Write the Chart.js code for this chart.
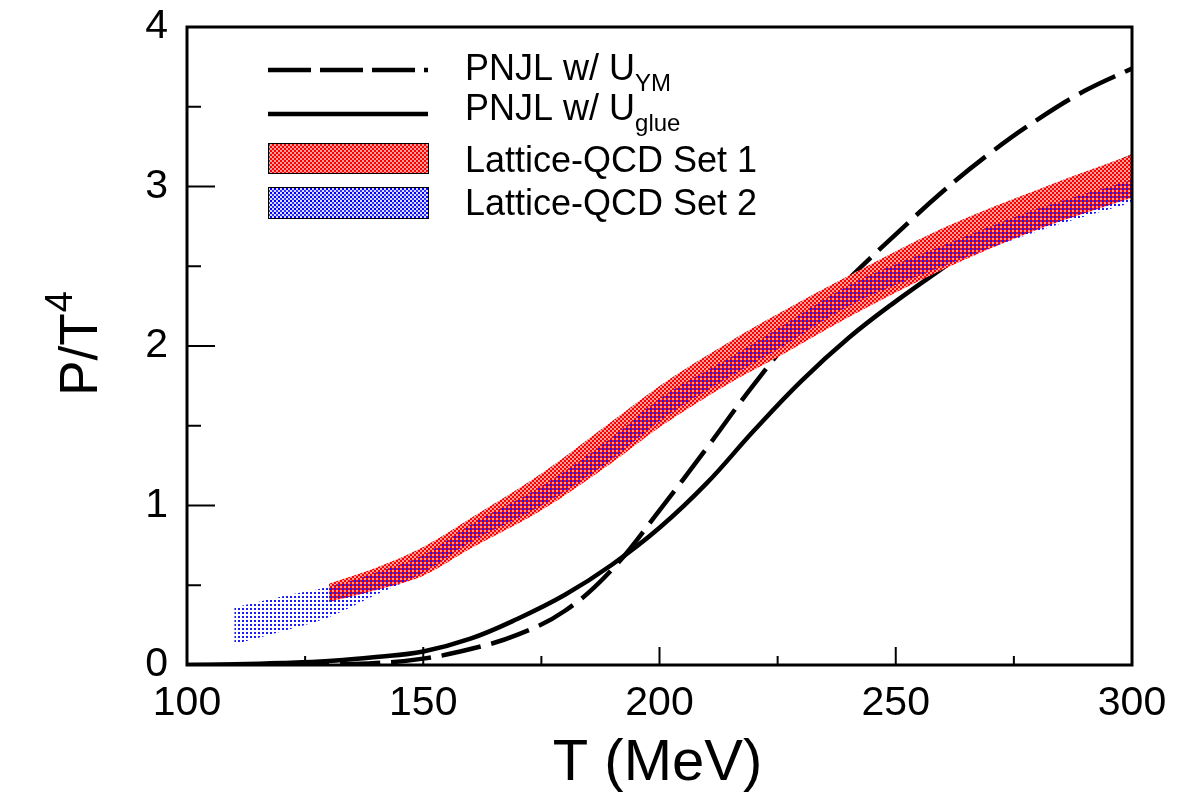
<!DOCTYPE html>
<html>
<head>
<meta charset="utf-8">
<script src="https://cdn.jsdelivr.net/npm/chart.js@4.4.1/dist/chart.umd.min.js"></script>
<style>
html,body{margin:0;padding:0;background:#fff;}
#wrap{width:1182px;height:800px;}
</style>
</head>
<body>
<div id="wrap"><canvas id="c" width="1182" height="800"></canvas></div>
<script>
// ---- data ----
const tCurve   = [100,110,120,130,140,150,160,170,180,190,200,210,220,230,240,250,260,270,280,290,300];
const pnjlYM   = [0.0,0.0,0.001,0.004,0.012,0.04,0.10,0.19,0.34,0.60,0.97,1.36,1.76,2.12,2.42,2.70,2.97,3.21,3.42,3.60,3.74];
const pnjlGlue = [0.0,0.004,0.012,0.025,0.05,0.085,0.165,0.29,0.44,0.63,0.86,1.14,1.47,1.78,2.05,2.28,2.49,2.70,2.88,3.05,3.19];

const set1T     = [130,140,150,160,175,190,200,215,225,240,260,280,300];
const set1Upper = [0.51,0.61,0.74,0.92,1.20,1.53,1.75,2.03,2.20,2.44,2.74,2.98,3.20];
const set1Lower = [0.395,0.47,0.56,0.73,0.97,1.27,1.49,1.77,1.93,2.18,2.48,2.73,2.93];

const set2T     = [110,120,130,140,150,160,175,190,200,215,225,240,260,280,300];
const set2Upper = [0.36,0.43,0.49,0.58,0.69,0.88,1.12,1.43,1.67,1.93,2.11,2.38,2.63,2.86,3.04];
const set2Lower = [0.13,0.21,0.30,0.44,0.58,0.77,1.00,1.29,1.53,1.81,1.98,2.25,2.50,2.72,2.90];

const xTicks = [100,150,200,250,300];
const yTicks = [0,1,2,3,4];
const xMinor = [125,175,225,275];
const yMinor = [0.5,1.5,2.5,3.5];

const xTitle = 'T (MeV)';
const yTitleMain = 'P/T';
const yTitleSup = '4';
const legendRows = [
  {main:'PNJL w/ U', sub:'YM'},
  {main:'PNJL w/ U', sub:'glue'},
  {main:'Lattice-QCD Set 1', sub:''},
  {main:'Lattice-QCD Set 2', sub:''}
];

// ---- helpers ----
const FONT = "'Liberation Sans', Arial, Helvetica, sans-serif";
const pts = (xs, ys) => xs.map((x, i) => ({x: x, y: ys[i]}));
const canvas = document.getElementById('c');
const mainCtx = canvas.getContext('2d');

// tiles of 2x2-pixel cells: [cellX, cellY, colour]
function makePattern(cells, n) {
  const t = document.createElement('canvas');
  t.width = 2 * n; t.height = 2 * n;
  const g = t.getContext('2d');
  cells.forEach(p => { g.fillStyle = p[2]; g.fillRect(p[0] * 2, p[1] * 2, 2, 2); });
  return mainCtx.createPattern(t, 'repeat');
}
const redPattern  = makePattern([[0,0,'#ff0000'],[1,1,'#ff0000'],[1,0,'#ff9c9c'],[0,1,'#ff9c9c']], 2);
const bluePattern = makePattern([[1,0,'#1a1aff']], 2);
const blueLegendPattern = makePattern([[1,0,'#0000ff'],[0,1,'#3030ff'],[0,0,'#dcdcff'],[1,1,'#dcdcff']], 2);

const frameBand = {
  id: 'frameAndText',
  afterDatasetsDraw(chart) {
    const {ctx, chartArea: a, scales: {x, y}} = chart;
    ctx.save();
    ctx.strokeStyle = '#000';
    ctx.lineCap = 'butt';
    const seg = (x1, y1, x2, y2) => { ctx.beginPath(); ctx.moveTo(x1, y1); ctx.lineTo(x2, y2); ctx.stroke(); };
    ctx.lineWidth = 2;
    xTicks.forEach(v => { const p = x.getPixelForValue(v); seg(p, a.bottom, p, a.bottom - 18); });
    xMinor.forEach(v => { const p = x.getPixelForValue(v); seg(p, a.bottom, p, a.bottom - 9); });
    yTicks.forEach(v => { const p = y.getPixelForValue(v); seg(a.left, p, a.left + 28, p); });
    yMinor.forEach(v => { const p = y.getPixelForValue(v); seg(a.left, p, a.left + 14, p); });
    ctx.lineWidth = 3;
    ctx.strokeRect(a.left, a.top, a.right - a.left, a.bottom - a.top);

    // legend
    const lx1 = 268, lx2 = 428, tx = 465;
    ctx.lineWidth = 4.5;
    ctx.setLineDash([43, 9]);
    seg(lx1, 70, lx2, 70);
    ctx.setLineDash([]);
    seg(lx1, 114, lx2, 114);
    ctx.fillStyle = redPattern;
    ctx.fillRect(lx1, 144, lx2 - lx1, 30);
    ctx.fillStyle = blueLegendPattern;
    ctx.fillRect(lx1, 188, lx2 - lx1, 30);
    ctx.lineWidth = 1;
    ctx.strokeRect(lx1 + 0.5, 143.5, lx2 - lx1, 30);
    ctx.strokeRect(lx1 + 0.5, 187.5, lx2 - lx1, 31);

    ctx.fillStyle = '#000';
    ctx.textAlign = 'left';
    ctx.textBaseline = 'alphabetic';
    const baselines = [80, 120, 172, 215];
    legendRows.forEach((r, i) => {
      ctx.font = '36px ' + FONT;
      ctx.fillText(r.main, tx, baselines[i]);
      if (r.sub) {
        const w = ctx.measureText(r.main).width;
        ctx.font = '24px ' + FONT;
        ctx.fillText(r.sub, tx + w, baselines[i] + 11);
      }
    });

    // axis titles
    ctx.font = '58px ' + FONT;
    ctx.textAlign = 'center';
    ctx.fillText(xTitle, (a.left + a.right) / 2 - 2, 780);

    ctx.save();
    ctx.translate(97, 344);
    ctx.rotate(-Math.PI / 2);
    ctx.font = '53px ' + FONT;
    const wm = ctx.measureText(yTitleMain).width;
    ctx.font = '38px ' + FONT;
    const ws = ctx.measureText(yTitleSup).width;
    const start = -(wm + ws) / 2;
    ctx.textAlign = 'left';
    ctx.font = '53px ' + FONT;
    ctx.fillText(yTitleMain, start, 0);
    ctx.font = '38px ' + FONT;
    ctx.fillText(yTitleSup, start + wm + 1, -25);
    ctx.restore();

    ctx.restore();
  }
};

new Chart(canvas, {
  type: 'line',
  data: {
    datasets: [
      {label: 'Set 2 lower', data: pts(set2T, set2Lower), borderWidth: 0, borderColor: 'transparent', pointRadius: 0, fill: false, cubicInterpolationMode: 'monotone'},
      {label: 'Lattice-QCD Set 2', data: pts(set2T, set2Upper), borderWidth: 0, borderColor: 'transparent', pointRadius: 0, fill: '-1', backgroundColor: bluePattern, cubicInterpolationMode: 'monotone'},
      {label: 'Set 1 lower', data: pts(set1T, set1Lower), borderWidth: 0, borderColor: 'transparent', pointRadius: 0, fill: false, cubicInterpolationMode: 'monotone'},
      {label: 'Lattice-QCD Set 1', data: pts(set1T, set1Upper), borderWidth: 0, borderColor: 'transparent', pointRadius: 0, fill: '-1', backgroundColor: redPattern, cubicInterpolationMode: 'monotone'},
      {label: 'PNJL w/ U_glue', data: pts(tCurve, pnjlGlue), borderColor: '#000', borderWidth: 4.5, pointRadius: 0, fill: false, tension: 0.4},
      {label: 'PNJL w/ U_YM', data: pts(tCurve, pnjlYM), borderColor: '#000', borderWidth: 4.5, borderDash: [40, 11], pointRadius: 0, fill: false, tension: 0.4}
    ]
  },
  options: {
    responsive: false,
    animation: false,
    devicePixelRatio: 1,
    layout: {padding: {left: 0, right: 50, top: 27, bottom: 0}},
    plugins: {legend: {display: false}, tooltip: {enabled: false}},
    scales: {
      x: {
        type: 'linear', min: 100, max: 300,
        grid: {display: false, drawTicks: false},
        border: {display: false},
        afterBuildTicks: s => { s.ticks = xTicks.map(v => ({value: v})); },
        afterFit: s => { s.height = 135; s.paddingLeft = 0; s.paddingRight = 0; },
        ticks: {autoSkip: false, maxRotation: 0, padding: 14, color: '#000', font: {size: 41, family: FONT}}
      },
      y: {
        type: 'linear', min: 0, max: 4,
        grid: {display: false, drawTicks: false},
        border: {display: false},
        afterBuildTicks: s => { s.ticks = yTicks.map(v => ({value: v})); },
        afterFit: s => { s.width = 187; s.paddingTop = 0; s.paddingBottom = 0; },
        ticks: {autoSkip: false, padding: 19, color: '#000', font: {size: 41, family: FONT}}
      }
    }
  },
  plugins: [frameBand]
});
</script>
</body>
</html>
